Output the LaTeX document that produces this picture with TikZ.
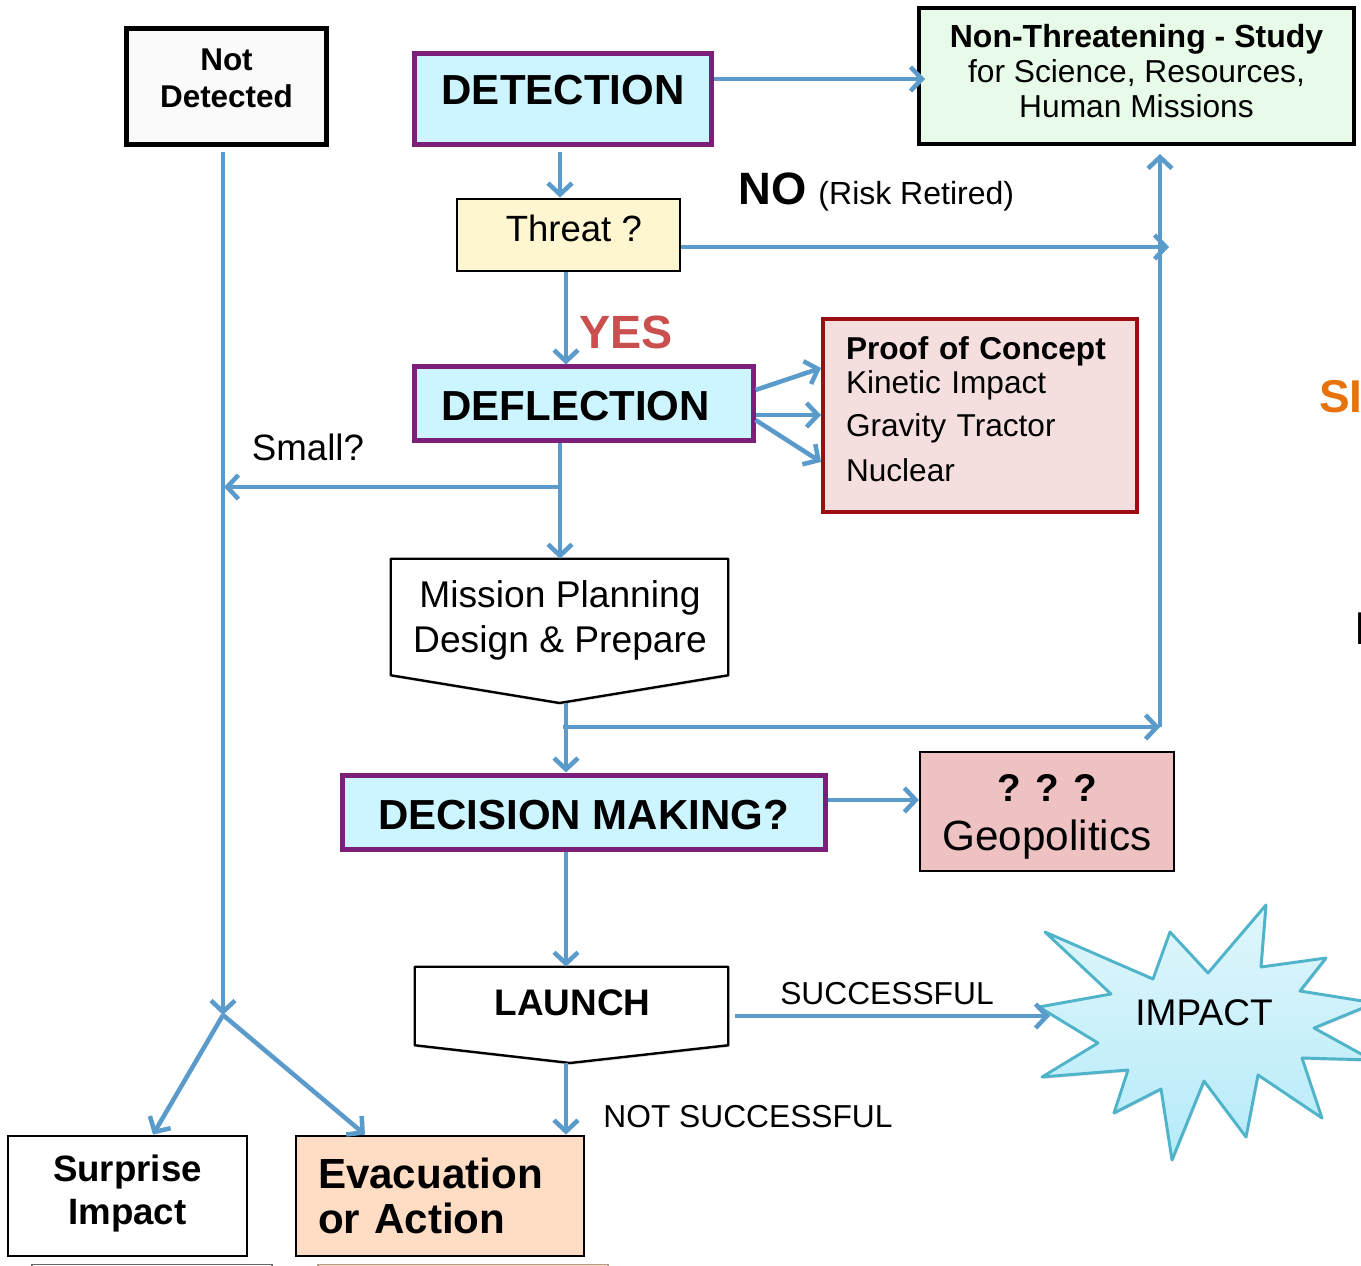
\documentclass[tikz,border=0pt]{standalone}
\usepackage{fontspec}
\setmainfont{Liberation Sans}
\usetikzlibrary{arrows.meta,shadows}
\definecolor{flowblue}{HTML}{5B9BCB}
\definecolor{phasepurple}{HTML}{7B1F7B}
\definecolor{phasefill}{HTML}{CCF5FF}
\definecolor{safefill}{HTML}{E8FBE8}
\definecolor{threatfill}{HTML}{FDF6D0}
\definecolor{proofred}{HTML}{9B0F12}
\definecolor{prooffill}{HTML}{F5DEDE}
\definecolor{geofill}{HTML}{EEC2C2}
\definecolor{evacfill}{HTML}{FFDCC4}
\definecolor{yesred}{HTML}{C9504F}
\definecolor{smallorange}{HTML}{E8730C}
\definecolor{starline}{HTML}{4FB3C9}
\definecolor{startop}{HTML}{E0F6FC}
\definecolor{starbottom}{HTML}{B5EBF9}
\tikzstyle{box}=[rectangle, draw, align=center, inner sep=0pt]
\tikzstyle{phase}=[box, draw=phasepurple, fill=phasefill, line width=3.75pt, font=\fontsize{31.5}{36}\selectfont\bfseries]
\tikzstyle{outcome}=[box, line width=2.1pt, font=\fontsize{27.5}{32.25}\selectfont\bfseries]
\tikzstyle{caption}=[inner sep=0pt, font=\fontsize{23.8}{27.75}\selectfont]
\tikzstyle{flow}=[-{Straight Barb[length=8.5pt,width=18pt]}, draw=flowblue, line width=3.4pt]
\tikzstyle{outline}=[draw, fill=white, line width=1.8pt, line join=round, drop shadow={opacity=.2, shadow xshift=1pt, shadow yshift=-1.5pt}]

\begin{document}
\begin{tikzpicture}[x=0.75pt,y=-0.75pt]
\path[use as bounding box, clip] (0,0) rectangle (1361,1266);
\draw (226.5,87) node[box, line width=3.75pt, fill=black!2, minimum width=150pt, minimum height=87pt, text depth=13.5pt, font=\fontsize{23.6}{27.75}\selectfont\bfseries] (NotDetected) {Not\\Detected};
\draw (563,99) node[phase, minimum width=223pt, minimum height=68.25pt, text depth=13pt] (Detection) {DETECTION};
\draw (1136.5,76) node[box, line width=3pt, fill=safefill, minimum width=326.25pt, minimum height=102pt, text depth=7.5pt, font=\fontsize{23.8}{26.5}\selectfont] (NonThreat) {{\fontsize{24}{26.5}\selectfont\bfseries Non-Threatening - Study}\\for Science, Resources,\\Human Missions};
\draw (568.5,235) node[box, line width=2.1pt, fill=threatfill, minimum width=167.25pt, minimum height=54pt, text depth=10pt, font=\fontsize{27.4}{32}\selectfont] (Threat) {\hspace*{8pt}Threat ?};
\draw (583.5,403.5) node[phase, minimum width=254.25pt, minimum height=54.75pt, text height=26pt] (Deflection) {DEFLECTION\hspace*{12pt}};
\draw (980,415.5) node[box, draw=proofred, line width=3pt, fill=prooffill, minimum width=235.5pt, minimum height=144.75pt, text width=201pt, align=left, text depth=101pt, font=\fontsize{23.7}{25.5}\selectfont] (Proof) {\textbf{Proof of Concept}\\Kinetic Impact\\[6.75pt]Gravity Tractor\\[8.25pt]Nuclear};
\draw (559.5,617) node[inner sep=0pt, minimum width=252.75pt, minimum height=87pt] (MissionBody) {};
\draw[outline] (MissionBody.north west) -- (MissionBody.north east) -- (MissionBody.south east) -- (MissionBody.south |- 0,703) -- (MissionBody.south west) -- cycle;
\draw (560,620) node[align=center, inner sep=0pt, font=\fontsize{27.9}{33.75}\selectfont] (Mission) {Mission Planning\\Design \& Prepare};
\draw (583.5,812) node[phase, minimum width=362.25pt, minimum height=55.5pt, text height=26pt] (Decision) {DECISION MAKING?};
\draw (1047,811.5) node[box, line width=1.8pt, fill=geofill, minimum width=190.5pt, minimum height=89.25pt, text height=64.5pt, font=\fontsize{31.7}{36.75}\selectfont] (Geopolitics) {{\fontsize{29}{36.75}\selectfont\bfseries ? ? ?}\\Geopolitics};
\draw (571.5,1006) node[inner sep=0pt, minimum width=234.75pt, minimum height=58.5pt] (LaunchBody) {};
\draw[outline] (LaunchBody.north west) -- (LaunchBody.north east) -- (LaunchBody.south east) -- (570,1063) -- (LaunchBody.south west) -- cycle;
\draw (572.5,1003) node[inner sep=0pt, font=\fontsize{27.7}{32}\selectfont\bfseries] (Launch) {LAUNCH};
\draw (127.5,1196) node[outcome, minimum width=179.25pt, minimum height=90pt, text depth=9pt] (Surprise) {Surprise\\Impact};
\draw (440,1196) node[outcome, fill=evacfill, minimum width=216pt, minimum height=90pt, text width=183pt, align=left, font=\fontsize{31.6}{33.75}\selectfont\bfseries] (Evacuation) {Evacuation\\or Action};
\draw (152,1291) node[box, draw=black!60, line width=1pt, minimum width=180pt, minimum height=40pt] (SurpriseEcho) {};
\draw (463,1291) node[box, draw=evacfill!70!black, fill=evacfill, line width=1pt, minimum width=217.5pt, minimum height=40pt] (EvacuationEcho) {};
\draw[top color=startop, bottom color=starbottom, draw=starline, line width=2.2pt, line join=round, drop shadow={opacity=.2, shadow xshift=1pt, shadow yshift=-1.5pt}]
  (1045,932) -- (1153,979) -- (1170,932) -- (1208,973) -- (1266,905) -- (1261,967) -- (1326,958) -- (1300,991) -- (1375,1003) -- (1314,1028) -- (1372,1060) -- (1302,1058) -- (1322,1118) -- (1258,1075) -- (1246,1137) -- (1204,1081) -- (1172,1160) -- (1161,1089) -- (1114,1113) -- (1128,1070) -- (1042,1077) -- (1098,1043) -- (1039,1007) -- (1111,994) -- cycle;
\draw (1204,1013) node[inner sep=0pt, font=\fontsize{27.8}{32}\selectfont] (Impact) {IMPACT};
\draw (738,205) node[anchor=base west, inner sep=0pt, font=\fontsize{24}{28}\selectfont] (NoLabel) {{\fontsize{34}{38}\selectfont\bfseries NO}\hspace{2.5pt} (Risk Retired)};
\draw (626,332) node[inner sep=0pt, text=yesred, font=\fontsize{35}{40}\selectfont\bfseries] (YesLabel) {YES};
\draw (308,447) node[inner sep=0pt, font=\fontsize{27.5}{32}\selectfont] (SmallLabel) {Small?};
\draw (887,994) node[caption] (Successful) {SUCCESSFUL};
\draw (748,1117) node[caption] (NotSuccessful) {NOT SUCCESSFUL};
\draw (1319,412) node[anchor=base west, inner sep=0pt, text=smallorange, font=\fontsize{34.5}{40}\selectfont\bfseries] (CutOrange) {SI};
\draw (1355,644) node[anchor=base west, inner sep=0pt, font=\fontsize{34.5}{40}\selectfont\bfseries] (CutBlack) {I};
\coordinate (MissionTip) at (566,703);
\coordinate (LaunchTip) at (566,1063);
\coordinate (MissionJoin) at (563,727);
\coordinate (RightJoin) at (1160,727);
\coordinate (SmallJoin) at (560,487);
\coordinate (Fork) at (223,1015);
\coordinate (ImpactTip) at (1050,1016);

\draw[flow] (Detection.east |- 0,79) -- (925,79);
\draw[flow] (560,152) -- (560,0 |- Threat.north);
\draw[flow] (566,0 |- Threat.south) -- (566,0 |- Deflection.north);
\draw[flow] (Threat.east |- 0,247) -- (1169,247);
\draw[flow] (RightJoin) -- (1160,154);
\draw[flow] (MissionJoin) -- (RightJoin);
\draw[flow] (MissionTip) -- (MissionTip |- Decision.north);
\draw[flow] (Decision.east |- 0,800) -- (Geopolitics.west |- 0,800);
\draw[flow] (566,0 |- Decision.south) -- (566,0 |- LaunchBody.north);
\draw[flow] (LaunchTip) -- (LaunchTip |- Evacuation.north);
\draw[flow, shorten <=5pt] (LaunchBody.east |- 0,1016) -- (ImpactTip);
\draw[flow] (Deflection.east |- 0,390) -- (Proof.west |- 0,368);
\draw[flow] (Deflection.east |- 0,415) -- (Proof.west |- 0,415);
\draw[flow] (Deflection.east |- 0,420) -- (Proof.west |- 0,462);
\draw[flow] (560,0 |- Deflection.south) -- (560,0 |- MissionBody.north);
\draw[flow] (SmallJoin) -- (224,487);
\draw[flow] (223,152) -- (Fork);
\draw[flow] (Fork) -- (153,0 |- Surprise.north);
\draw[flow] (Fork) -- (365,0 |- Evacuation.north);
\end{tikzpicture}
\end{document}
